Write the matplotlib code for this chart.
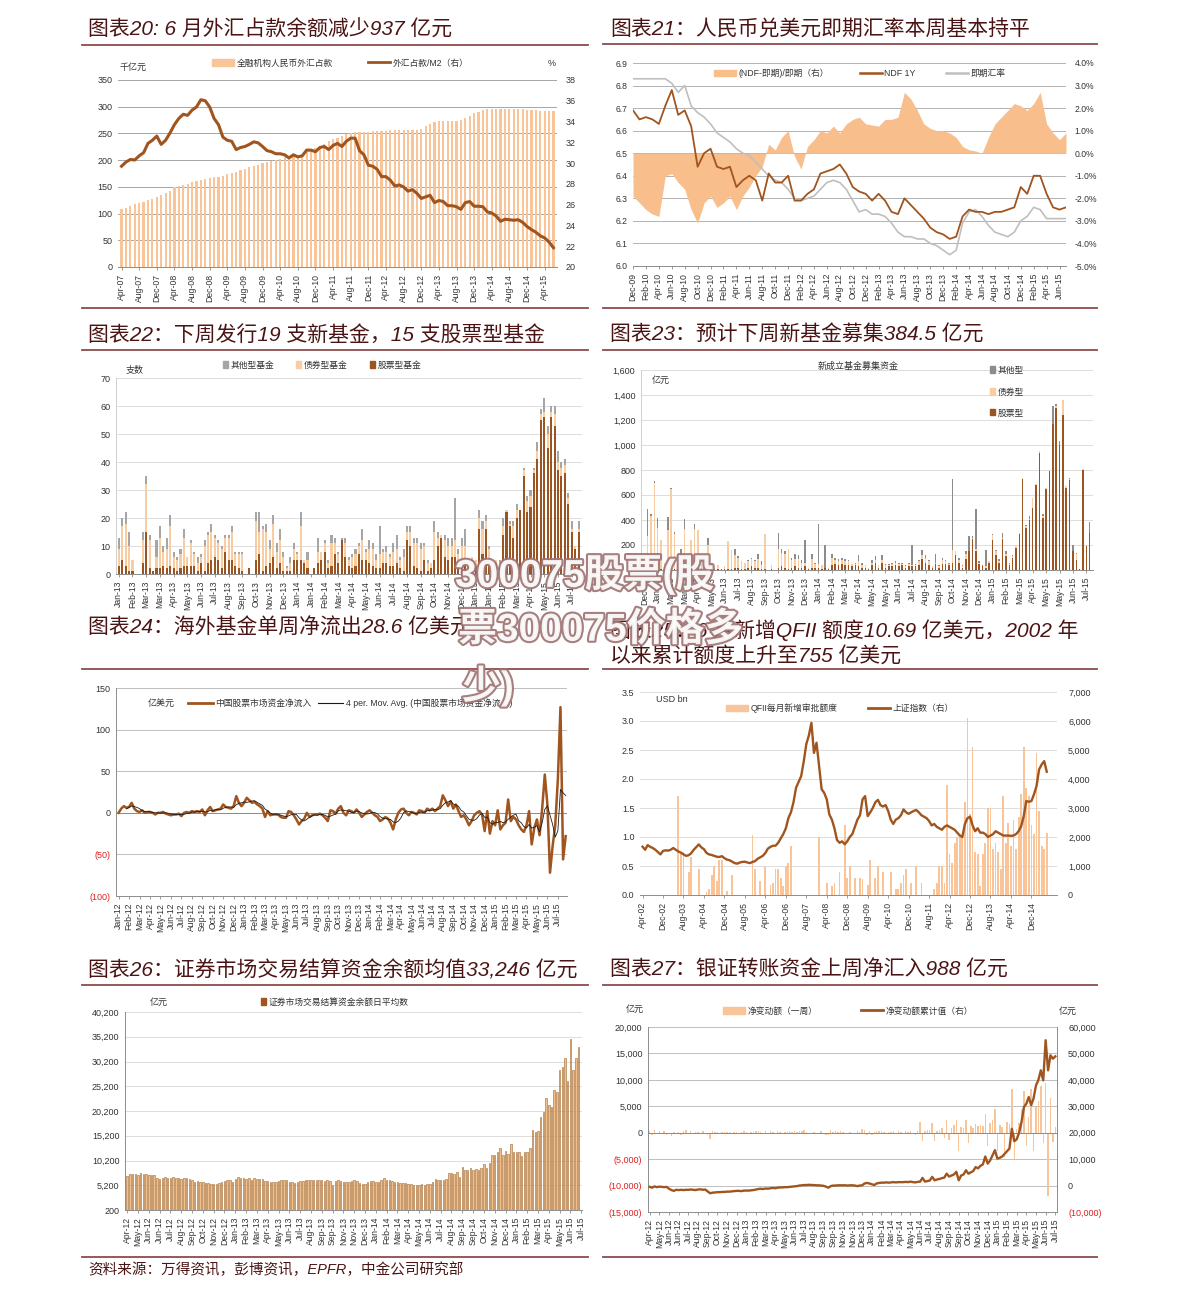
import matplotlib
matplotlib.use("Agg")
import matplotlib.pyplot as plt
import numpy as np
import pandas as pd
from matplotlib.lines import Line2D
from matplotlib.patches import Patch
from matplotlib.ticker import FuncFormatter
import matplotlib.patheffects as pe

plt.rcParams['font.family'] = ['Liberation Sans', 'Noto Sans CJK SC']
plt.rcParams['axes.unicode_minus'] = False

W, H = 1191, 1298

BROWN = "#A0541E"
LIGHT = "#F9C497"
GRAYL = "#BFBFBF"
TITLE_C = "#4B1414"
RULE_C = "#8E4B4B"
TICK_C = "#333333"
RED = "#E02020"

# ---------------- data ----------------
# fig 20: monthly Apr-07 .. Jun-15
fx_bal = [108, 111, 114, 117, 119, 122, 125, 128, 131,
          134, 138, 143, 150, 152, 154, 156, 159, 161, 163, 165, 167,
          168, 169, 171, 174, 176, 178, 181, 184, 187, 189, 191, 194,
          196, 198, 201, 203, 205, 206, 208, 209, 211, 215, 219, 222,
          227, 231, 235, 239, 242, 245, 248, 250, 252, 253, 253, 253,
          254, 255, 255, 255, 256, 256, 256, 256, 256, 257, 257, 259,
          263, 267, 271, 273, 274, 274, 274, 274, 275, 278, 283, 288,
          291, 293, 295, 295, 296, 296, 296, 295, 295, 295, 295, 294,
          294, 293, 292, 292, 292, 292]
fx_m2 = [29.7, 30.1, 30.35, 30.3, 30.7, 31.0, 31.9, 32.2, 32.6,
         31.8, 32.2, 32.9, 33.7, 34.3, 34.7, 34.6, 35.1, 35.4, 36.1, 36.0, 35.4,
         34.3, 33.7, 32.5, 32.2, 32.1, 31.3, 31.5, 31.6, 31.8, 32.05, 31.95, 31.6,
         31.2, 31.1, 30.9, 30.9, 30.8, 30.5, 30.8, 30.6, 30.7, 31.25, 31.25, 31.1,
         31.5, 31.6, 31.3, 31.7, 31.9, 31.6, 32.1, 32.4, 32.4, 31.2, 30.8, 29.8,
         29.7, 29.4, 28.7, 28.7, 28.35, 27.8, 27.9, 27.7, 27.3, 27.45, 27.1, 26.6,
         26.75, 26.9, 26.2, 26.4, 26.3, 25.9, 25.9, 25.8, 25.55, 26.2, 26.3, 25.85,
         25.85, 25.8, 25.3, 25.2, 24.9, 24.4, 24.6, 24.55, 24.5, 24.55, 24.3, 23.9,
         23.6, 23.35, 23.0, 22.8, 22.4, 21.85]
p20_labels = ("Apr-07 Aug-07 Dec-07 Apr-08 Aug-08 Dec-08 Apr-09 Aug-09 Dec-09 Apr-10 Aug-10 "
              "Dec-10 Apr-11 Aug-11 Dec-11 Apr-12 Aug-12 Dec-12 Apr-13 Aug-13 Dec-13 Apr-14 "
              "Aug-14 Dec-14 Apr-15").split()

# fig 21: monthly Dec-09 .. Jul-15
ndf_1y = [6.69, 6.65, 6.66, 6.65, 6.63, 6.71, 6.78, 6.67, 6.69, 6.62, 6.44, 6.50, 6.52,
          6.44, 6.43, 6.44, 6.35, 6.38, 6.40, 6.38, 6.29, 6.41, 6.37, 6.37, 6.40,
          6.29, 6.29, 6.32, 6.34, 6.41, 6.42, 6.43, 6.45, 6.41, 6.35, 6.33, 6.32,
          6.29, 6.32, 6.29, 6.24, 6.23, 6.30, 6.27, 6.24, 6.21, 6.17, 6.15, 6.14,
          6.12, 6.13, 6.22, 6.25, 6.24, 6.24, 6.23, 6.24, 6.24, 6.25, 6.26, 6.35,
          6.32, 6.40, 6.40, 6.32, 6.26, 6.25, 6.26]
spot_fx = [6.83, 6.83, 6.83, 6.83, 6.83, 6.83, 6.81, 6.77, 6.80, 6.71, 6.68, 6.66, 6.63,
           6.59, 6.57, 6.55, 6.52, 6.50, 6.49, 6.46, 6.43, 6.40, 6.38, 6.37, 6.34,
           6.30, 6.29, 6.30, 6.31, 6.34, 6.37, 6.38, 6.37, 6.34, 6.29, 6.24, 6.25,
           6.23, 6.23, 6.22, 6.19, 6.15, 6.13, 6.13, 6.12, 6.12, 6.10, 6.09, 6.07,
           6.05, 6.07, 6.19, 6.24, 6.25, 6.22, 6.18, 6.15, 6.14, 6.13, 6.15, 6.20,
           6.22, 6.26, 6.25, 6.21, 6.21, 6.21, 6.21]
ndf_spread = [-1.9, -2.2, -2.5, -2.7, -2.8, -1.0, -0.9, -1.3, -1.6, -2.5, -3.1, -2.2, -1.9,
              -2.4, -2.2, -1.9, -2.5, -1.9, -1.5, -1.0, -0.6, 0.4, 0.15, 0.7, 1.0,
              -0.15, -0.7, 0.3, 0.6, 1.0, 0.9, 1.2, 0.9, 1.3, 1.5, 1.6, 1.3,
              1.25, 1.2, 1.5, 1.5, 1.6, 2.7, 2.4, 1.9, 1.3, 1.1, 1.0, 1.0,
              0.9, 0.7, 0.3, 0.15, 0.1, 0.0, 0.7, 1.3, 1.6, 1.9, 2.2, 2.1,
              1.9, 2.2, 2.7, 1.3, 0.9, 0.6, 0.9]
p21_labels = ("Dec-09 Feb-10 Apr-10 Jun-10 Aug-10 Oct-10 Dec-10 Feb-11 Apr-11 Jun-11 Aug-11 "
              "Oct-11 Dec-11 Feb-12 Apr-12 Jun-12 Aug-12 Oct-12 Dec-12 Feb-13 Apr-13 Jun-13 "
              "Aug-13 Oct-13 Dec-13 Feb-14 Apr-14 Jun-14 Aug-14 Oct-14 Dec-14 Feb-15 Apr-15 "
              "Jun-15").split()

# fig 22: weekly number of new funds
new_stock = [3, 5, 3, 1, 1, 0, 0, 4, 15, 2, 1, 2, 2, 3, 2, 3, 2, 1, 2, 3,
             3, 3, 3, 1, 4, 1, 4, 5, 6, 5, 2, 8, 5, 5, 3, 2, 1, 0, 2, 0,
             5, 7, 1, 3, 4, 6, 2, 4, 1, 1, 1, 5, 5, 5, 4, 2, 0, 2, 4, 5,
             8, 2, 3, 7, 4, 12, 6, 3, 2, 3, 7, 5, 5, 4, 3, 2, 2, 4, 4, 3,
             3, 4, 2, 1, 12, 10, 3, 2, 1, 5, 1, 2, 5, 10, 13, 6, 5, 6, 6, 2,
             5, 3, 3, 5, 3, 16, 7, 16, 3, 1, 4, 3, 14, 22, 17, 13, 20, 23, 35, 22,
             24, 36, 41, 55, 56, 45, 56, 53, 37, 35, 36, 25, 15, 9, 15]
new_bond = [6, 12, 15, 9, 4, 0, 0, 8, 17, 10, 0, 4, 11, 5, 7, 14, 4, 4, 5, 10,
            3, 8, 4, 3, 2, 9, 10, 10, 7, 6, 7, 5, 8, 10, 4, 5, 6, 0, 0, 0,
            14, 8, 15, 12, 5, 12, 6, 8, 5, 1, 3, 4, 2, 12, 1, 3, 0, 0, 4, 3,
            3, 2, 8, 4, 3, 0, 5, 2, 4, 4, 3, 7, 3, 5, 6, 3, 5, 4, 4, 3,
            5, 5, 3, 5, 3, 5, 8, 9, 8, 5, 3, 2, 10, 3, 1, 6, 5, 4, 6, 5,
            5, 7, 2, 1, 2, 4, 9, 3, 6, 2, 1, 1, 3, 1, 1, 4, 3, 0, 2, 4,
            4, 1, 3, 2, 2, 5, 2, 4, 3, 3, 3, 2, 1, 1, 1]
new_other = [4, 3, 4, 5, 0, 0, 0, 3, 3, 2, 0, 6, 4, 2, 4, 4, 2, 1, 2, 3,
             0, 1, 1, 2, 1, 2, 1, 3, 1, 1, 1, 1, 1, 2, 1, 1, 1, 0, 0, 0,
             3, 7, 1, 3, 3, 3, 3, 4, 2, 1, 2, 2, 1, 5, 0, 3, 0, 0, 5, 0,
             1, 1, 3, 2, 1, 1, 2, 1, 1, 2, 1, 4, 1, 3, 2, 2, 10, 1, 2, 1,
             3, 5, 1, 3, 2, 2, 2, 2, 2, 1, 1, 0, 4, 2, 0, 2, 3, 3, 15, 2,
             3, 6, 0, 0, 0, 3, 3, 2, 1, 1, 0, 1, 3, 0, 1, 2, 2, 0, 1, 2,
             2, 1, 3, 2, 5, 3, 2, 3, 4, 2, 2, 2, 3, 0, 3]
p22_labels = ("Jan-13 Feb-13 Mar-13 Mar-13 Apr-13 May-13 Jun-13 Jul-13 Aug-13 Sep-13 Oct-13 "
              "Nov-13 Dec-13 Jan-14 Jan-14 Feb-14 Mar-14 Apr-14 May-14 Jun-14 Jul-14 Aug-14 "
              "Sep-14 Oct-14 Nov-14 Dec-14 Jan-15 Jan-15 Feb-15 Mar-15 Apr-15 May-15 Jun-15 "
              "Jul-15").split()

# fig 23: weekly new fund raising (亿元)
raise_total = [0, 485, 450, 715, 415, 240, 60, 425, 660, 305, 50, 170, 410, 120, 240, 370,
               320, 100, 60, 260, 60, 30, 40, 10, 30, 230, 160, 170, 110, 70, 60, 80,
               100, 80, 125, 70, 285, 0, 40, 0, 300, 170, 150, 170, 100, 130, 120, 80,
               240, 20, 130, 60, 370, 40, 200, 20, 130, 100, 90, 100, 90, 80, 50, 60,
               120, 60, 40, 20, 80, 110, 40, 120, 50, 50, 55, 70, 55, 60, 40, 60,
               200, 50, 80, 160, 120, 80, 30, 130, 40, 100, 80, 60, 725, 150, 100, 40,
               150, 275, 270, 490, 70, 40, 160, 70, 290, 160, 90, 300, 150, 60, 120, 190,
               300, 735, 360, 430, 580, 690, 950, 450, 660, 800, 1310, 1330, 1030, 1360, 670, 735,
               200, 140, 10, 810, 200, 385]
raise_stock = [0, 20, 10, 10, 10, 5, 5, 10, 10, 10, 5, 5, 10, 10, 5, 10,
               5, 10, 5, 10, 10, 5, 5, 5, 5, 10, 10, 20, 20, 10, 10, 20,
               30, 20, 20, 10, 10, 0, 5, 0, 20, 30, 20, 10, 20, 30, 20, 20,
               30, 5, 20, 20, 20, 10, 20, 5, 40, 50, 40, 50, 40, 40, 30, 40,
               30, 20, 20, 10, 40, 60, 20, 60, 20, 30, 30, 40, 30, 40, 20, 30,
               30, 30, 40, 90, 60, 40, 20, 50, 20, 50, 50, 40, 60, 120, 60, 20,
               90, 150, 250, 150, 50, 30, 20, 60, 240, 120, 60, 250, 110, 40, 100, 180,
               290, 730, 340, 400, 500, 680, 940, 420, 650, 790, 1170, 1300, 1000, 1240, 660, 720,
               150, 80, 5, 800, 190, 300]
raise_other = [0, 215, 20, 15, 75, 0, 0, 105, 10, 15, 0, 65, 80, 10, 0, 40,
               0, 0, 0, 60, 10, 0, 0, 0, 0, 0, 0, 50, 10, 0, 0, 10,
               10, 10, 40, 30, 0, 0, 0, 0, 130, 30, 20, 0, 20, 40, 30, 20,
               180, 0, 40, 10, 320, 0, 180, 0, 30, 20, 20, 20, 20, 10, 0, 10,
               50, 20, 0, 0, 20, 30, 0, 40, 10, 10, 10, 10, 10, 10, 10, 10,
               160, 10, 10, 40, 20, 10, 0, 70, 10, 20, 10, 10, 565, 0, 20, 10,
               20, 120, 10, 320, 10, 10, 130, 0, 10, 10, 20, 40, 20, 10, 10, 0,
               0, 0, 10, 20, 0, 0, 0, 20, 0, 0, 140, 20, 30, 0, 0, 10,
               50, 10, 0, 0, 0, 85]
p23_labels = ("Dec-12 Jan-13 Mar-13 Mar-13 Apr-13 May-13 Jun-13 Jul-13 Aug-13 Sep-13 Oct-13 "
              "Nov-13 Dec-13 Jan-14 Feb-14 Mar-14 Apr-14 May-14 May-14 Jun-14 Jul-14 Aug-14 "
              "Sep-14 Oct-14 Nov-14 Dec-14 Jan-15 Feb-15 Mar-15 Apr-15 May-15 May-15 Jun-15 "
              "Jul-15").split()

# fig 24: weekly net flow into China equity funds (亿美元)
china_flow = [0, 5, 8, 6, 7, 12, 5, 2, 1, 3, 0, 1, 1, 0, -2, 0,
              0, 1, -1, -2, -3, -2, -2, -1, -4, 0, 1, 0, 2, 1, 2, 1,
              4, -3, 3, 7, 2, 3, 4, 5, 10, 7, 6, 5, 8, 20, 12, 8,
              12, 18, 15, 12, 13, 10, 8, 5, -5, 2, -3, -2, -2, -2, -5, -6,
              -6, 2, 1, -3, -8, -14, -10, -7, 0, -5, -3, -2, -2, -1, -3, -6,
              -10, 3, 2, -1, 5, 8, 0, -3, 3, 2, 0, 4, 0, -5, -2, 1,
              3, 0, -3, -5, -10, -8, -5, -7, -12, -20, -8, 0, 4, 5, 0, -3,
              1, 0, -2, 3, 2, 0, 5, 3, 5, 2, 5, 8, 21, 15, 8, 14,
              5, 10, 2, -5, -3, -8, -15, -10, -3, 0, 2, -2, -22, 2, -25, -10,
              -15, 3, -20, -15, -12, 16, -10, -5, -8, -15, -20, -23, -15, 2, -38, -18,
              -8, -27, 5, 46, 10, -72, -40, -15, 40, 127, -56, -28]
p24_labels = ("Jan-12 Feb-12 Mar-12 Apr-12 May-12 Jun-12 Jul-12 Aug-12 Sep-12 Oct-12 Nov-12 "
              "Dec-12 Jan-13 Feb-13 Mar-13 Apr-13 May-13 Jun-13 Jul-13 Aug-13 Sep-13 Oct-13 "
              "Nov-13 Dec-13 Jan-14 Feb-14 Mar-14 Apr-14 May-14 Jun-14 Jul-14 Aug-14 Sep-14 "
              "Oct-14 Nov-14 Dec-14 Jan-15 Feb-15 Mar-15 Apr-15 May-15 Jun-15 Jul-15").split()

# fig 25: monthly Apr-02 .. Jun-15
qfii_quota = [0, 0, 0, 0, 0, 0, 0, 0, 0,
              0, 0, 0, 0, 0, 1.7, 0.75, 0.75, 0, 0.4, 0.65, 0,
              0, 0.45, 0, 0, 0.05, 0.1, 0.35, 0.5, 0.25, 0.6, 0.6, 0,
              0.07, 0, 0.35, 0, 0, 0, 0, 0, 0, 0, 1.03, 0.45,
              0, 0.25, 0, 0.48, 0, 0.17, 0.2, 0.45, 0.45, 0.3, 0.15, 0.5,
              0.55, 0.85, 0, 0, 0, 0, 0, 0, 0, 0, 0, 0,
              1.0, 0, 0, 0.2, 0, 0.15, 0.2, 0, 0.4, 0, 1.2, 0.3,
              0.5, 0, 0.3, 0, 0.3, 0.28, 0, 0.17, 0.6, 0, 0.3, 0.5,
              0, 0.4, 0, 0, 0.4, 0, 0.1, 0.1, 0.2, 0.35, 0.45, 0,
              0.2, 0, 0.5, 0, 0.2, 0, 0, 0, 0, 0.1, 0.2, 0.5,
              0.5, 0.2, 1.9, 0.7, 0.55, 0.9, 1.0, 1.05, 1.0, 1.6, 3.05, 1.4,
              2.55, 0.75, 0.7, 0.15, 0.7, 0.9, 1.5, 1.5, 0.8, 0.9, 0.75, 0.45,
              1.7, 0.9, 1.25, 0.85, 1.3, 0.8, 1.35, 1.75, 2.55, 1.85, 1.7, 1.2,
              1.05, 2.45, 1.45, 0.85, 0.8, 1.07]
sse_index = [1665, 1560, 1720, 1660, 1620, 1560, 1480, 1400, 1520,
             1540, 1530, 1560, 1620, 1560, 1500, 1460, 1400, 1350, 1370, 1440, 1560,
             1650, 1745, 1640, 1580, 1450, 1400, 1380, 1350, 1320, 1310, 1340, 1270,
             1220, 1200, 1150, 1100, 1080, 1120, 1140, 1150, 1120, 1100, 1140, 1170,
             1250, 1300, 1350, 1450, 1600, 1660, 1700, 1700, 1800, 1950, 2100, 2300,
             2650, 2850, 3200, 3700, 3900, 4100, 4600, 5200, 5500, 5935, 4900, 5250,
             4450, 3650, 3520, 3300, 2780, 2600, 2300, 1900, 1800, 1850, 1750, 1850,
             2000, 2100, 2350, 2600, 2750, 3300, 3410, 2720, 2850, 3000, 3200, 3280,
             3100, 3050, 3100, 2900, 2600, 2450, 2600, 2650, 2750, 2950, 2850, 2800,
             2850, 2900, 2930, 2850, 2750, 2700, 2650, 2550, 2400, 2450, 2350, 2300,
             2250, 2350, 2400, 2350, 2300, 2250, 2150, 2050, 2000, 2450, 2650, 2700,
             2400, 2200, 2300, 2150, 2150, 2100, 2000, 2050, 2100, 2200, 2150, 2100,
             2050, 2050, 2050, 2040, 2050, 2100, 2200, 2375, 2720, 3240, 3215, 3240,
             3470, 3755, 4330, 4500, 4615, 4250]
p25_labels = ("Apr-02 Dec-02 Aug-03 Apr-04 Dec-04 Aug-05 Apr-06 Dec-06 Aug-07 Apr-08 Dec-08 "
              "Aug-09 Apr-10 Dec-10 Aug-11 Apr-12 Dec-12 Aug-13 Apr-14 Dec-14").split()

# fig 26: weekly settlement fund balance (亿元)
settle_bal = [7100, 7500, 7400, 7500, 7200, 7600, 7500, 7400, 7300, 7300, 7200, 6700,
              6500, 6600, 6900, 6700, 6700, 6800, 6600, 6700, 6500, 6600, 6600, 6500,
              6200, 5900, 6000, 5900, 5800, 5700, 5600, 5500, 5500, 5500, 5600, 5900,
              6100, 6300, 6200, 5900, 6400, 6900, 6700, 6600, 6500, 6600, 6300, 6600,
              6500, 6500, 6400, 6000, 6000, 5900, 5800, 5900, 6000, 6200, 6300, 6200,
              5900, 5800, 5700, 5800, 6100, 6100, 6200, 6200, 6300, 6200, 6300, 6200,
              6300, 6100, 6300, 6000, 5300, 6100, 6200, 6100, 5800, 5800, 5800, 6000,
              6200, 6000, 5600, 5400, 5500, 5900, 6000, 6000, 5900, 5800, 6300, 6600,
              6300, 6200, 6000, 5900, 5800, 5600, 5700, 5600, 5400, 5400, 5300, 5300,
              5300, 5400, 5300, 5400, 5500, 5800, 6400, 6300, 6200, 6300, 6500, 7700,
              7600, 7400, 7900, 6900, 8800, 8300, 8200, 8600, 8300, 8400, 8300, 8700,
              9400, 8700, 9700, 11400, 11400, 12000, 12800, 11400, 12200, 11600, 13600, 12000,
              11900, 12000, 11200, 12000, 12000, 12800, 16300, 16000, 16200, 18900, 20000, 22800,
              21500, 21000, 24500, 24000, 28500, 29100, 30900, 26300, 34700, 28400, 31000, 33200]
p26_labels = ("Apr-12 May-12 Jun-12 Jun-12 Jul-12 Aug-12 Sep-12 Oct-12 Nov-12 Dec-12 Jan-13 "
              "Feb-13 Mar-13 Apr-13 May-13 Jun-13 Jul-13 Aug-13 Sep-13 Sep-13 Nov-13 Nov-13 "
              "Dec-13 Jan-14 Feb-14 Mar-14 Apr-14 May-14 Jun-14 Jul-14 Aug-14 Sep-14 Sep-14 "
              "Oct-14 Nov-14 Dec-14 Jan-15 Feb-15 Mar-15 Apr-15 May-15 Jun-15 Jul-15").split()

# fig 27: weekly bank-securities transfers (亿元)
transfer_week = [300, -500, 600, -300, 400, -200, 300, -400, -300, -600, 200, -300,
                 200, -400, 300, 500, -200, 300, -300, 200, 100, -300, 400, -200,
                 -400, -1100, 300, 100, 200, -100, 100, 200, 100, 200, -200, 100,
                 200, -100, 100, 300, 100, -200, 200, 100, 300, 400, 200, -200,
                 300, -200, 400, 200, -100, 300, 200, -300, 200, 100, 300, 200,
                 300, 200, 400, 300, 600, 200, -100, -300, 200, -200, -300, 300,
                 -300, -500, -400, 500, 200, 300, 100, 300, 200, -100, -200, 200,
                 -200, -300, 300, 200, 700, 500, -400, 300, -500, 200, 400, 300,
                 300, 200, -300, 200, 200, 300, -200, 300, 200, -100, 300, 200,
                 300, -300, -400, 400, 2000, -1600, 300, 500, 600, 1800, -1500, 400,
                 500, 800, -1000, 2400, -1300, 900, 1500, 2400, -3500, 1000, 800, 2500,
                 -2000, 1200, 900, 1700, 1300, 1500, 1200, 3500, -2500, 1900, 2400, 4400,
                 -3500, 1400, 1000, -4500, 2000, 1600, 8200, -5000, 700, 1800, 4500, 7800,
                 -2500, 3000, 8200, -3500, 4800, 6000, 8800, -2000, 9500, -12000, 6500, -1800,
                 988]
transfer_cum = [-500, -800, -300, -600, -400, -500, -600, -500, -1200, -1700, -2000, -1600,
                -1700, -1600, -1700, -1600, -1600, -1500, -1600, -1700, -1500, -1400, -1600, -1500,
                -2200, -2900, -2700, -2600, -2500, -2500, -2400, -2400, -2300, -2300, -2200, -2100,
                -2000, -2000, -2100, -1900, -1900, -1900, -1800, -1700, -1500, -1300, -1200, -1300,
                -1100, -1200, -1000, -900, -1000, -800, -700, -700, -600, -600, -500, -400,
                -300, -200, 0, 100, 200, 200, 300, 200, 200, 100, 100, 0,
                -100, -400, -800, -200, 0, 0, 100, 100, 100, 100, 0, 100,
                100, 0, -200, 0, 100, 800, 1000, 800, 500, 200, 800, 1000,
                1100, 1100, 1200, 1100, 1200, 1300, 1200, 1300, 1300, 1300, 1400, 1300,
                1500, 1300, 1200, 1400, 1500, 2900, 1500, 1700, 1900, 3300, 2000, 2300,
                2500, 2800, 3000, 4500, 3400, 3800, 4200, 5200, 2000, 3800, 4200, 5800,
                4500, 5000, 5500, 7000, 6500, 7500, 8000, 11000, 8300, 9500, 11500, 13400,
                10200, 10500, 11000, 12000, 13000, 14000, 21500, 16800, 17500, 20000, 24000, 29700,
                31000, 33500, 30400, 33000, 37900, 40000, 43600, 39800, 55000, 43600, 49300, 48000,
                48900]

source_text = "资料来源：万得资讯，彭博资讯，EPFR，中金公司研究部"


# ---------------- helpers ----------------
fig = plt.figure(figsize=(W / 100, H / 100), dpi=100)
fig.patch.set_facecolor("white")


def add_ax(l, t, r, b):
    return fig.add_axes([l / W, 1 - b / H, (r - l) / W, (b - t) / H])


def fx(x):
    return x / W


def fy(y):
    return 1 - y / H


def title(x, y, s):
    fig.text(fx(x), fy(y), s, fontsize=15, color=TITLE_C, style="italic",
             ha="left", va="center")


def rule(x0, x1, y, lw=1.3):
    fig.add_artist(Line2D([fx(x0), fx(x1)], [fy(y), fy(y)], transform=fig.transFigure,
                          color=RULE_C, lw=lw))


def note(x, y, s, ha="left", size=6.5):
    fig.text(fx(x), fy(y), s, fontsize=size, color=TICK_C, ha=ha, va="center")


def base_style(ax, left=False, right=False, grid_c=GRAYL):
    for side in ("top", "right", "left"):
        ax.spines[side].set_visible(False)
    ax.spines["left"].set_visible(left)
    ax.spines["right"].set_visible(right)
    for side in ("left", "right", "bottom"):
        ax.spines[side].set_color("#8C8C8C")
        ax.spines[side].set_linewidth(0.7)
    ax.grid(axis="y", color=grid_c, lw=0.7)
    ax.set_axisbelow(True)
    ax.tick_params(axis="y", length=0, labelsize=6.5, labelcolor=TICK_C, pad=4)
    ax.tick_params(axis="x", length=2, width=0.6, color="#8C8C8C", labelsize=6.2,
                   labelcolor=TICK_C, pad=3)


def set_xlabels(ax, labels, step):
    ax.set_xticks(np.arange(len(labels)) * step)
    ax.set_xticklabels(labels, rotation=90)


def leg(handles, labels, x, y, ncol, spacing=3.0, hl=2.5):
    fig.legend(handles, labels, loc="center", bbox_to_anchor=(fx(x), fy(y)), ncol=ncol,
               frameon=False, fontsize=6.3, handlelength=hl, columnspacing=spacing,
               handletextpad=0.3, labelcolor=TICK_C)


comma = FuncFormatter(lambda v, p: f"{v:,.0f}")


def paren(v, p):
    return f"({abs(v):,.0f})" if v < 0 else f"{v:,.0f}"


# ---------------- fig 20 ----------------
title(88, 30, "图表20: 6 月外汇占款余额减少937 亿元")
rule(82, 588, 45)
ax = add_ax(118, 80, 557, 267)
x20 = np.arange(len(fx_bal))
ax.bar(x20, fx_bal, width=0.5, color=LIGHT)
ax.set_ylim(0, 350)
ax.set_yticks(range(0, 351, 50))
ax.set_xlim(-0.8, len(fx_bal) - 0.2)
base_style(ax, grid_c="#A6A6A6")
set_xlabels(ax, p20_labels, 4)
axr = ax.twinx()
axr.plot(x20, fx_m2, color=BROWN, lw=2.2)
axr.set_ylim(20, 38)
axr.set_yticks(range(20, 39, 2))
for s in axr.spines.values():
    s.set_visible(False)
axr.tick_params(axis="y", length=0, labelsize=6.5, labelcolor=TICK_C, pad=6)
note(120, 67, "千亿元")
note(548, 63, "%")
leg([Patch(color=LIGHT), Line2D([], [], color=BROWN, lw=2)],
    ["全融机构人民币外汇占款", "外汇占款/M2（右）"], 340, 63, 2, spacing=4)

# ---------------- fig 21 ----------------
title(610, 30, "图表21：人民币兑美元即期汇率本周基本持平")
rule(603, 1097, 44)
ax = add_ax(633, 63, 1066, 266)
x21 = np.arange(len(ndf_1y))
axr = ax.twinx()
axr.fill_between(x21, ndf_spread, 0, color="#F8BE8C", lw=0)
axr.set_ylim(-5, 4)
axr.set_yticks(range(-5, 5))
axr.yaxis.set_major_formatter(FuncFormatter(lambda v, p: f"{v:.1f}%"))
for s in axr.spines.values():
    s.set_visible(False)
axr.tick_params(axis="y", length=0, labelsize=6.2, labelcolor=TICK_C, pad=6)
axr.grid(axis="y", color="#A6A6A6", lw=0.6)
axr.set_axisbelow(True)
ax.set_zorder(axr.get_zorder() + 1)
ax.patch.set_visible(False)
ax.plot(x21, spot_fx, color=GRAYL, lw=1.2)
ax.plot(x21, ndf_1y, color=BROWN, lw=1.3)
ax.set_ylim(6.0, 6.9)
ax.set_yticks(np.arange(6.0, 6.91, 0.1))
ax.yaxis.set_major_formatter(FuncFormatter(lambda v, p: f"{v:.1f}"))
ax.set_xlim(0, len(ndf_1y) - 1)
base_style(ax)
ax.grid(False)
set_xlabels(ax, p21_labels, 2)
ax.tick_params(axis="y", labelsize=6.2)
leg([Patch(color="#F8BE8C"), Line2D([], [], color=BROWN, lw=1.8), Line2D([], [], color=GRAYL, lw=1.8)],
    ["(NDF-即期)/即期（右）", "NDF 1Y", "即期汇率"], 860, 73, 3, spacing=3.5)

# ---------------- fig 22 ----------------
title(88, 335, "图表22：下周发行19 支新基金，15 支股票型基金")
ax = add_ax(116, 378, 582, 574)
x22 = np.arange(len(new_stock))
s22 = np.array(new_stock)
b22 = np.array(new_bond)
o22 = np.array(new_other)
ax.bar(x22, s22, width=0.6, color="#9C5420")
ax.bar(x22, b22, width=0.6, bottom=s22, color="#F9CDA2")
ax.bar(x22, o22, width=0.6, bottom=s22 + b22, color="#A6A6A6")
ax.set_ylim(0, 70)
ax.set_yticks(range(0, 71, 10))
ax.set_xlim(-0.8, len(new_stock))
base_style(ax, left=True, grid_c="#DDDDDD")
ax.spines["left"].set_color("#D0D0D0")
set_xlabels(ax, p22_labels, 4)
note(126, 370, "支数")
leg([Patch(color="#A6A6A6"), Patch(color="#F9CDA2"), Patch(color="#9C5420")],
    ["其他型基金", "债券型基金", "股票型基金"], 322, 365, 3, spacing=2.5, hl=0.6)

# ---------------- fig 23 ----------------
title(610, 335, "图表23：预计下周新基金募集384.5 亿元")
rule(603, 1097, 350)
rule(82, 588, 350)
ax = add_ax(641, 370, 1093, 570)
x23 = np.arange(len(raise_total))
st = np.array(raise_stock)
ot = np.array(raise_other)
bd = np.array(raise_total) - st - ot
ax.bar(x23, st, width=0.45, color="#9C5420")
ax.bar(x23, bd, width=0.45, bottom=st, color="#F9CDA2")
ax.bar(x23, ot, width=0.45, bottom=st + bd, color="#8C8C8C")
ax.set_ylim(0, 1600)
ax.set_yticks(range(0, 1601, 200))
ax.yaxis.set_major_formatter(comma)
ax.set_xlim(-1, len(raise_total))
base_style(ax, left=True, grid_c="#DDDDDD")
ax.spines["left"].set_color("#D0D0D0")
set_xlabels(ax, p23_labels, 4)
note(652, 380, "亿元")
note(858, 366, "新成立基金募集资金", ha="center")
for yy, lab, c in [(370, "其他型", "#8C8C8C"), (392, "债券型", "#F9CDA2"), (413, "股票型", "#9C5420")]:
    fig.legend([Patch(color=c)], [lab], loc="center left", bbox_to_anchor=(fx(990), fy(yy)),
               frameon=False, fontsize=6.3, handlelength=0.6, handletextpad=0.3,
               labelcolor=TICK_C, borderaxespad=0, borderpad=0)

# ---------------- fig 24 ----------------
title(88, 628, "图表24：海外基金单周净流出28.6 亿美元")
rule(82, 588, 669)
ax = add_ax(116, 688, 567, 896)
x24 = np.arange(len(china_flow))
flow = pd.Series(china_flow, dtype=float)
ax.plot(x24, flow, color=BROWN, lw=1.8)
ax.plot(x24, flow.rolling(4).mean(), color="#1A1A1A", lw=0.6)
ax.set_ylim(-100, 150)
ax.set_yticks(range(-100, 151, 50))
ax.yaxis.set_major_formatter(FuncFormatter(paren))
ax.set_xlim(-1, len(china_flow) - 0.5)
base_style(ax, left=True)
ax.axhline(0, color="#8C8C8C", lw=0.7, zorder=1)
for t, v in zip(ax.get_yticklabels(), ax.get_yticks()):
    if v < 0:
        t.set_color(RED)
set_xlabels(ax, p24_labels, 4)
note(148, 703, "亿美元")
leg([Line2D([], [], color=BROWN, lw=2), Line2D([], [], color="#1A1A1A", lw=0.8)],
    ["中国股票市场资金净流入", "4 per. Mov. Avg. (中国股票市场资金净流入)"], 350, 703, 2, spacing=0.8, hl=2.8)

# ---------------- fig 25 ----------------
title(610, 630, "图表25：6 月新增QFII 额度10.69 亿美元，2002 年")
title(610, 656, "以来累计额度上升至755 亿美元")
rule(603, 1097, 669)
ax = add_ax(640, 692, 1057, 895)
x25 = np.arange(len(qfii_quota))
ax.bar(x25, qfii_quota, width=0.7, color=LIGHT)
ax.set_ylim(0, 3.5)
ax.set_yticks(np.arange(0, 3.51, 0.5))
ax.yaxis.set_major_formatter(FuncFormatter(lambda v, p: f"{v:.1f}"))
ax.set_xlim(-1, len(qfii_quota) + 3)
base_style(ax, grid_c="#DDDDDD")
set_xlabels(ax, p25_labels, 8)
axr = ax.twinx()
axr.plot(x25, sse_index, color=BROWN, lw=1.7)
axr.set_ylim(0, 7000)
axr.set_yticks(range(0, 7001, 1000))
axr.yaxis.set_major_formatter(comma)
for s in axr.spines.values():
    s.set_visible(False)
axr.tick_params(axis="y", length=0, labelsize=6.5, labelcolor=TICK_C, pad=8)
note(656, 699, "USD bn")
leg([Patch(color=LIGHT), Line2D([], [], color=BROWN, lw=2)],
    ["QFII每月新增审批额度", "上证指数（右）"], 840, 708, 2, spacing=3.5)

# ---------------- fig 26 ----------------
title(88, 970, "图表26：证券市场交易结算资金余额均值33,246 亿元")
rule(82, 588, 985)
ax = add_ax(125, 1012, 582, 1210)
x26 = np.arange(len(settle_bal))
ax.bar(x26, np.array(settle_bal) - 200, bottom=200, width=0.55, color="#F2BE8A",
       edgecolor="#A0682E", linewidth=0.4)
ax.set_ylim(200, 40200)
ax.set_yticks(range(200, 40201, 5000))
ax.yaxis.set_major_formatter(comma)
ax.set_xlim(-0.8, len(settle_bal) + 0.3)
base_style(ax, left=True, grid_c="#DDDDDD")
set_xlabels(ax, p26_labels, 4)
note(150, 1002, "亿元")
leg([Patch(color="#A0541E")], ["证券市场交易结算资金余额日平均数"], 335, 1002, 1, hl=0.6)

# ---------------- fig 27 ----------------
title(610, 970, "图表27：银证转账资金上周净汇入988 亿元")
rule(603, 1097, 985)
ax = add_ax(648, 1027, 1057, 1212)
x27 = np.arange(len(transfer_week))
ax.bar(x27, transfer_week, width=0.6, color=LIGHT)
ax.set_ylim(-15000, 20000)
ax.set_yticks(range(-15000, 20001, 5000))
ax.yaxis.set_major_formatter(FuncFormatter(paren))
ax.set_xlim(-0.7, len(transfer_week) - 0.3)
base_style(ax, left=True, right=True)
ax.axhline(0, color="#8C8C8C", lw=0.7, zorder=1)
for t, v in zip(ax.get_yticklabels(), ax.get_yticks()):
    if v < 0:
        t.set_color(RED)
set_xlabels(ax, p26_labels, 4)
axr = ax.twinx()
axr.plot(x27, transfer_cum, color=BROWN, lw=1.7)
axr.set_ylim(-10000, 60000)
axr.set_yticks(range(-10000, 60001, 10000))
axr.yaxis.set_major_formatter(FuncFormatter(paren))
for s in axr.spines.values():
    s.set_visible(False)
axr.tick_params(axis="y", length=0, labelsize=6.5, labelcolor=TICK_C, pad=8)
for t, v in zip(axr.get_yticklabels(), axr.get_yticks()):
    if v < 0:
        t.set_color(RED)
note(635, 1009, "亿元", ha="center")
note(1068, 1011, "亿元", ha="center")
leg([Patch(color=LIGHT), Line2D([], [], color=BROWN, lw=2)],
    ["净变动额（一周）", "净变动额累计值（右）"], 848, 1011, 2, spacing=5)

# ---------------- frame rules and source ----------------
rule(82, 588, 308)
rule(603, 1097, 308)
rule(82, 588, 1257)
rule(603, 1097, 1257)
fig.text(fx(88), fy(1270), source_text, fontsize=10.5, color=TITLE_C, style="italic",
         ha="left", va="center")

# ---------------- watermark ----------------
wm_fx = [pe.withStroke(linewidth=3, foreground="#A07474")]
for (xx, yy, s) in [(455, 575, "300075股票(股"), (458, 630, "票300075价格多"), (462, 686, "少)")]:
    fig.text(fx(xx), fy(yy), s, fontsize=28, fontweight="bold", color="white", alpha=0.92,
             ha="left", va="center", path_effects=wm_fx, zorder=20)

fig.savefig("out.png", dpi=100, facecolor="white")
